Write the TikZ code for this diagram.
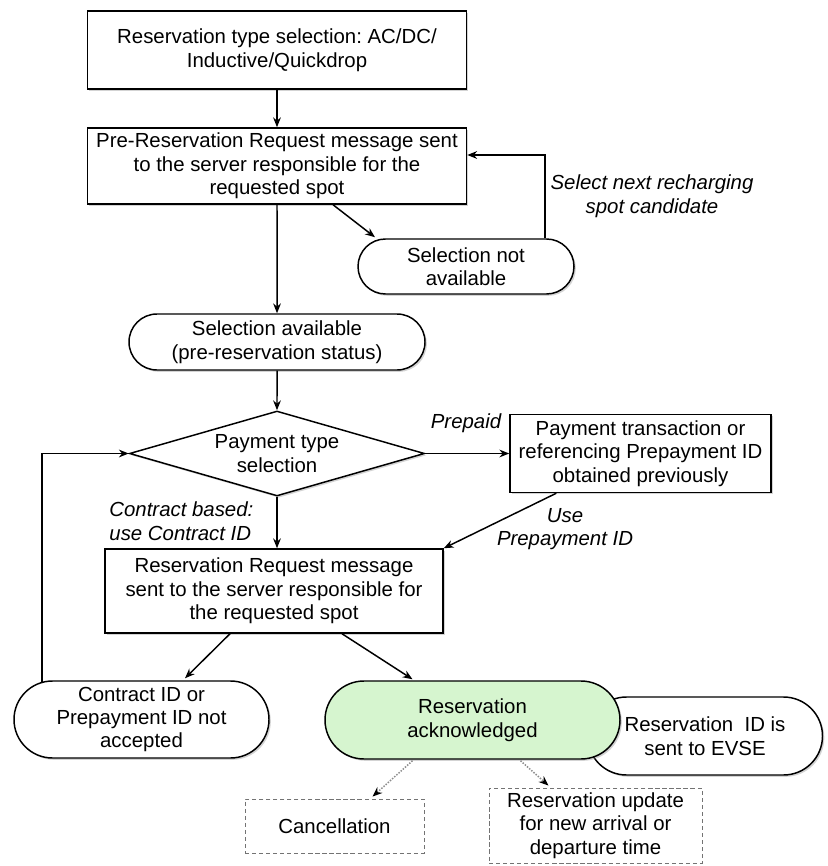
\documentclass[tikz,border=0pt]{standalone}
\usepackage{fontspec}
\setmainfont{Liberation Sans}
\usetikzlibrary{arrows.meta,shapes.geometric,shapes.misc,shadows,calc}
\definecolor{ackgreen}{HTML}{D6F5CF}
\newcommand{\px}{0.025cm}
\frenchspacing

\begin{document}
\begin{tikzpicture}[x=\px, y=-\px, line width=1.05pt,
  font=\fontsize{14.5}{16.7}\selectfont,
  base/.style={draw, align=center, inner sep=0pt, fill=white},
  shade/.style={drop shadow={shadow xshift=1.3pt, shadow yshift=-1.3pt, opacity=0.35}},
  stepbox/.style={base, shade, rectangle},
  statebox/.style={base, shade, rounded rectangle},
  choice/.style={base, shade, diamond, aspect=3.4},
  optbox/.style={base, densely dashed, draw=black!55, line width=0.6pt},
  arr/.style={-{Stealth[length=7pt,width=5.5pt]}},
  optarr/.style={-{Stealth[length=7pt,width=5.5pt,color=black]}, densely dotted, draw=black!45},
  note/.style={font=\fontsize{14.5}{16.7}\selectfont\itshape, align=center}
]
  \useasboundingbox (0,0) rectangle (827,866);

  % main flow
  \node[stepbox, minimum width=379*\px, minimum height=78*\px] (typesel) at (277,50)
    {Reservation type selection: AC/DC/\\Inductive/Quickdrop};
  \node[stepbox, minimum width=379*\px, minimum height=76*\px] (prereq) at (277,166)
    {Pre-Reservation Request message sent\\to the server responsible for the\\requested spot};
  \node[statebox, minimum width=216*\px, minimum height=55*\px] (notavail) at (466,266.5)
    {Selection not\\available};
  \node[statebox, minimum width=296*\px, minimum height=56*\px] (avail) at (277,342)
    {Selection available\\(pre-reservation status)};
  \node[choice, minimum width=295*\px, minimum height=85*\px] (paytype) at (277,453.5)
    {Payment type\\selection};
  \node[stepbox, minimum width=261*\px, minimum height=78*\px] (paytrans) at (640.5,453.5)
    {Payment transaction or\\referencing Prepayment ID\\obtained previously};
  \node[stepbox, minimum width=338*\px, minimum height=84*\px] (resreq) at (274,591)
    {Reservation Request message\\sent to the server responsible for\\the requested spot};
  \node[statebox, minimum width=255*\px, minimum height=77*\px] (rejected) at (141.5,719.5)
    {Contract ID or\\Prepayment ID not\\accepted};
  \node[statebox, minimum width=235*\px, minimum height=78*\px] (evse) at (705,736)
    {Reservation\ \ ID is\\sent to EVSE};
  \node[statebox, fill=ackgreen, minimum width=295*\px, minimum height=78*\px] (ack) at (472.5,720)
    {Reservation\\acknowledged};

  % optional follow-ups
  \node[optbox, minimum width=179*\px, minimum height=54*\px] (cancel) at (334.5,826)
    {Cancellation};
  \node[optbox, minimum width=213*\px, minimum height=75*\px] (update) at (595.5,825.5)
    {Reservation update\\for new arrival or\\departure time};

  % labels
  \node[note] (nextlbl) at (652,196) {Select next recharging\\spot candidate};
  \node[note] (prepaidlbl) at (466,423) {Prepaid};
  \node[note, anchor=west, align=left] (contractlbl) at (104,521) {Contract based:\\use Contract ID};
  \node[note] (uselbl) at (565,529) {Use\\Prepayment ID};

  \coordinate (loopR) at (545,155);
  \coordinate (loopL) at (42,453.5);

  \draw[arr] (typesel) -- (prereq);
  \draw[arr] ($(prereq.south)+(56,0)$) -- ($(notavail.north)+(-91,-1)$);
  \draw[arr] (loopR |- notavail.north) |- (prereq.east |- loopR);
  \draw[arr] (prereq) -- (avail);
  \draw[arr] (avail) -- (paytype);
  \draw[arr] (paytype.east) -- (paytrans.west);
  \draw[arr] (paytype.south) -- (paytype.south |- resreq.north);
  \draw[arr] ($(paytrans.south west)+(47,0)$) -- (resreq.north east);
  \draw[arr] ($(resreq.south)+(-44,0)$) -- ($(rejected.north)+(43.5,-2)$);
  \draw[arr] ($(resreq.south)+(68,0)$) -- ($(ack.north)+(-60,-1)$);
  \draw[arr] ($(loopL |- rejected.north)+(0,2)$) |- (paytype.west);
  \draw[optarr] ($(ack.south)+(-60,1)$) -- ($(cancel.north)+(38,-2)$);
  \draw[optarr] ($(ack.south)+(48,1)$) -- ($(update.north)+(-47,-2)$);
\end{tikzpicture}
\end{document}
